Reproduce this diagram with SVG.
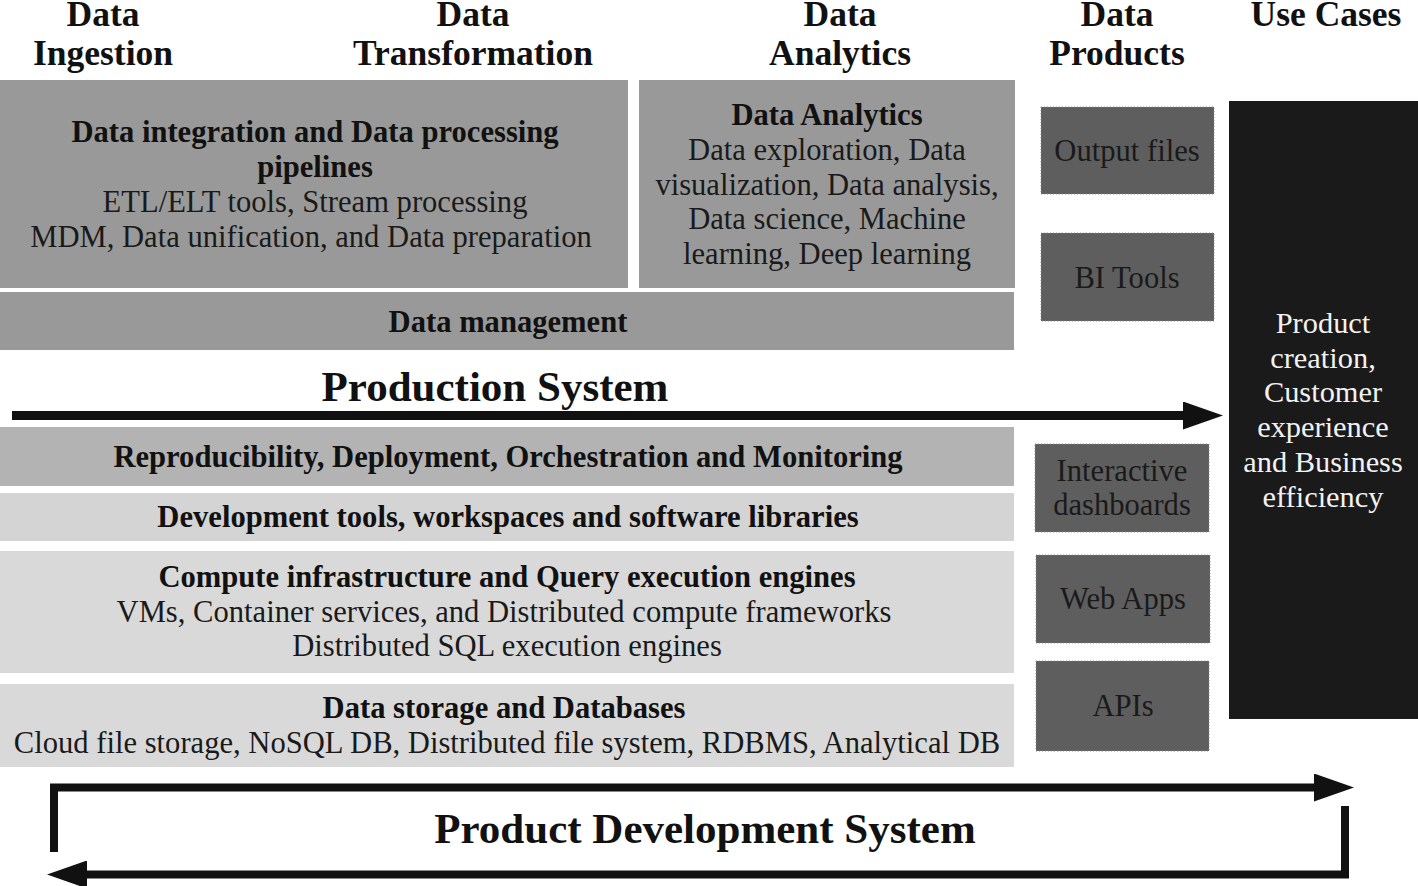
<svg xmlns="http://www.w3.org/2000/svg" width="1418" height="886" viewBox="0 0 1418 886">
<style>
text{font-family:"Liberation Serif","Times New Roman",serif;text-anchor:middle}
.hd{font-size:35.5px;font-weight:bold;fill:#111}
.t{font-size:30.6px;font-weight:bold;fill:#111}
.r{font-size:30.6px;fill:#1a1a1a}
.big{font-size:43px;font-weight:bold;fill:#111}
.w{font-size:30.4px;fill:#f2f2f2}
.g1{fill:#999999}
.g2{fill:#b3b3b3}
.g3{fill:#d4d4d4}
.g4{fill:#d9d9d9}
.dk{fill:#5e5e5e;stroke:#888;stroke-width:1;stroke-dasharray:1 2}
.blk{fill:#1a1a1a}
.ln{fill:none;stroke:#111;stroke-linejoin:miter}
</style>
<defs>
<marker id="ah" markerUnits="userSpaceOnUse" markerWidth="42" markerHeight="28" refX="2" refY="14" orient="auto">
<path d="M0,0 L40,14 L0,28 Z" fill="#111"/>
</marker>
</defs>
<rect width="1418" height="886" fill="#ffffff"/>

<g id="headers">
<text class="hd" x="103" y="26">Data</text>
<text class="hd" x="103" y="65">Ingestion</text>
<text class="hd" x="473" y="26">Data</text>
<text class="hd" x="473" y="65">Transformation</text>
<text class="hd" x="840" y="26">Data</text>
<text class="hd" x="840" y="65">Analytics</text>
<text class="hd" x="1117" y="26">Data</text>
<text class="hd" x="1117" y="65">Products</text>
<text class="hd" x="1326" y="26">Use Cases</text>
</g>

<g id="integration">
<rect class="g1" x="0" y="80" width="628" height="208"/>
<text class="t" x="315" y="142">Data integration and Data processing</text>
<text class="t" x="315" y="177">pipelines</text>
<text class="r" x="315" y="212">ETL/ELT tools, Stream processing</text>
<text class="r" x="311" y="247">MDM, Data unification, and Data preparation</text>
</g>

<g id="analytics">
<rect class="g1" x="639" y="80" width="376" height="208"/>
<text class="t" x="827" y="125">Data Analytics</text>
<text class="r" x="827" y="160">Data exploration, Data</text>
<text class="r" x="827" y="195">visualization, Data analysis,</text>
<text class="r" x="827" y="229">Data science, Machine</text>
<text class="r" x="827" y="264">learning, Deep learning</text>
</g>

<g id="management">
<rect class="g1" x="0" y="292" width="1014" height="58"/>
<text class="t" x="508" y="332">Data management</text>
</g>

<g id="production-label">
<text class="big" x="495" y="401">Production System</text>
</g>

<g id="reproducibility">
<rect class="g2" x="0" y="427" width="1014" height="59"/>
<text class="t" x="508" y="467">Reproducibility, Deployment, Orchestration and Monitoring</text>
</g>

<g id="devtools">
<rect class="g3" x="0" y="493" width="1014" height="48"/>
<text class="t" x="508" y="527">Development tools, workspaces and software libraries</text>
</g>

<g id="compute">
<rect class="g4" x="0" y="551" width="1014" height="122"/>
<text class="t" x="507" y="587">Compute infrastructure and Query execution engines</text>
<text class="r" x="504" y="622">VMs, Container services, and Distributed compute frameworks</text>
<text class="r" x="507" y="656">Distributed SQL execution engines</text>
</g>

<g id="storage">
<rect class="g4" x="0" y="684" width="1014" height="83"/>
<text class="t" x="504" y="718">Data storage and Databases</text>
<text class="r" x="507" y="753">Cloud file storage, NoSQL DB, Distributed file system, RDBMS, Analytical DB</text>
</g>

<g id="output-files">
<rect class="dk" x="1041" y="107" width="173" height="87"/>
<text class="r" x="1127" y="161">Output files</text>
</g>

<g id="bi-tools">
<rect class="dk" x="1041" y="233" width="173" height="88"/>
<text class="r" x="1127" y="288">BI Tools</text>
</g>

<g id="dashboards">
<rect class="dk" x="1035" y="444" width="174" height="88"/>
<text class="r" x="1122" y="481">Interactive</text>
<text class="r" x="1122" y="515">dashboards</text>
</g>

<g id="web-apps">
<rect class="dk" x="1036" y="555" width="174" height="88"/>
<text class="r" x="1123" y="609">Web Apps</text>
</g>

<g id="apis">
<rect class="dk" x="1036" y="661" width="173" height="90"/>
<text class="r" x="1123" y="716">APIs</text>
</g>

<g id="use-cases">
<rect class="blk" x="1229" y="101" width="189" height="618"/>
<text class="w" x="1323" y="333">Product</text>
<text class="w" x="1323" y="368">creation,</text>
<text class="w" x="1323" y="402">Customer</text>
<text class="w" x="1323" y="437">experience</text>
<text class="w" x="1323" y="472">and Business</text>
<text class="w" x="1323" y="507">efficiency</text>
</g>

<g id="connectors">
<path class="ln" stroke-width="9" d="M12,415.5 L1185,415.5" marker-end="url(#ah)"/>
<path class="ln" stroke-width="8" d="M54,852 L54,787.5 L1316,787.5" marker-end="url(#ah)"/>
<path class="ln" stroke-width="8" d="M1345,806 L1345,874.5 L85,874.5" marker-end="url(#ah)"/>
</g>

<g id="development-label">
<text class="big" x="705" y="843">Product Development System</text>
</g>
</svg>
